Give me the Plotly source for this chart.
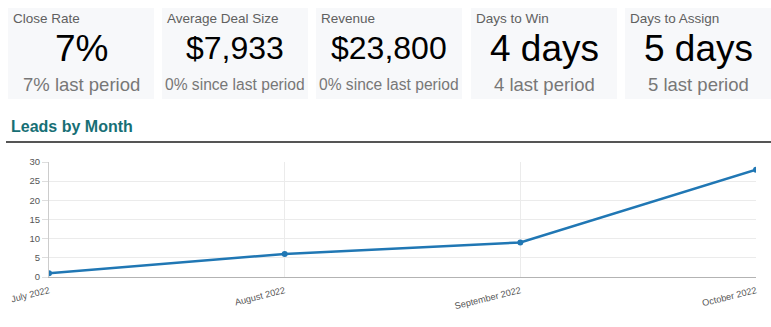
import plotly.graph_objects as go

# KPI cards
card_titles = ["Close Rate", "Average Deal Size", "Revenue", "Days to Win", "Days to Assign"]
card_values = ["7%", "$7,933", "$23,800", "4 days", "5 days"]
card_subtitles = ["7% last period", "0% since last period", "0% since last period",
                  "4 last period", "5 last period"]
value_sizes = [37, 32, 32, 37, 37]
subtitle_sizes = [18.5, 15.6, 15.6, 18.5, 18.5]

# Leads by month
months = ["July 2022", "August 2022", "September 2022", "October 2022"]
leads = [1, 6, 9, 28]
y_ticks = [0, 5, 10, 15, 20, 25, 30]

W, H = 771, 327
FONT = "Liberation Sans, Arial, sans-serif"


def px(x):
    return x / W


def py(y):
    return 1 - y / H


fig = go.Figure()
fig.add_trace(go.Scatter(
    x=months, y=leads, mode="lines+markers",
    line=dict(color="#2077b4", width=2.5),
    marker=dict(color="#2077b4", size=6),
    hoverinfo="x+y", showlegend=False,
))

shapes = []
annotations = []
card_left = [8, 162, 316, 471, 625]
card_w = 146
card_top, card_bottom = 8, 99
for i, left in enumerate(card_left):
    shapes.append(dict(
        type="rect", xref="paper", yref="paper",
        x0=px(left), x1=px(left + card_w), y0=py(card_bottom), y1=py(card_top),
        fillcolor="#f7f8fa", line=dict(width=0), layer="below",
    ))
    annotations.append(dict(
        text=card_titles[i], xref="paper", yref="paper",
        x=px(left + 3), y=py(18), xanchor="left", yanchor="middle",
        showarrow=False, font=dict(family=FONT, size=13.5, color="#606060"),
    ))
    annotations.append(dict(
        text=card_values[i], xref="paper", yref="paper",
        x=px(left + card_w / 2), y=py(48), xanchor="center", yanchor="middle",
        showarrow=False, font=dict(family=FONT, size=value_sizes[i], color="#000000"),
    ))
    annotations.append(dict(
        text=card_subtitles[i], xref="paper", yref="paper",
        x=px(left + card_w / 2), y=py(84), xanchor="center", yanchor="middle",
        showarrow=False, font=dict(family=FONT, size=subtitle_sizes[i], color="#777777"),
    ))

# Section heading with rule
annotations.append(dict(
    text="<b>Leads by Month</b>", xref="paper", yref="paper",
    x=px(9), y=py(126), xanchor="left", yanchor="middle",
    showarrow=False, font=dict(family=FONT, size=16, color="#176f75"),
))
shapes.append(dict(
    type="line", xref="paper", yref="paper",
    x0=px(6), x1=1, y0=py(142), y1=py(142),
    line=dict(color="#555555", width=2),
))

fig.update_layout(
    width=W, height=H,
    margin=dict(l=0, r=0, t=0, b=0, autoexpand=False),
    paper_bgcolor="white", plot_bgcolor="white",
    shapes=shapes, annotations=annotations,
    font=dict(family=FONT, size=9, color="#666666"),
    xaxis=dict(
        domain=[px(49), px(756)],
        type="category",
        range=[0, 3],
        automargin=False,
        showgrid=True, gridcolor="#ebebeb", gridwidth=1,
        showline=True, linecolor="#b3b3b3", linewidth=1,
        tickangle=-14, ticks="", ticklabelstandoff=4,
        tickfont=dict(size=9.2, color="#555555"),
        zeroline=False,
    ),
    yaxis=dict(
        domain=[py(277), py(162)],
        range=[0, 30],
        tickvals=y_ticks,
        automargin=False,
        showgrid=True, gridcolor="#ebebeb", gridwidth=1,
        showline=True, linecolor="#cccccc", linewidth=1,
        ticks="outside", ticklen=6, tickcolor="#dddddd",
        tickfont=dict(size=9.5, color="#555555"),
        zeroline=False,
    ),
)

fig.write_html("out.html")
